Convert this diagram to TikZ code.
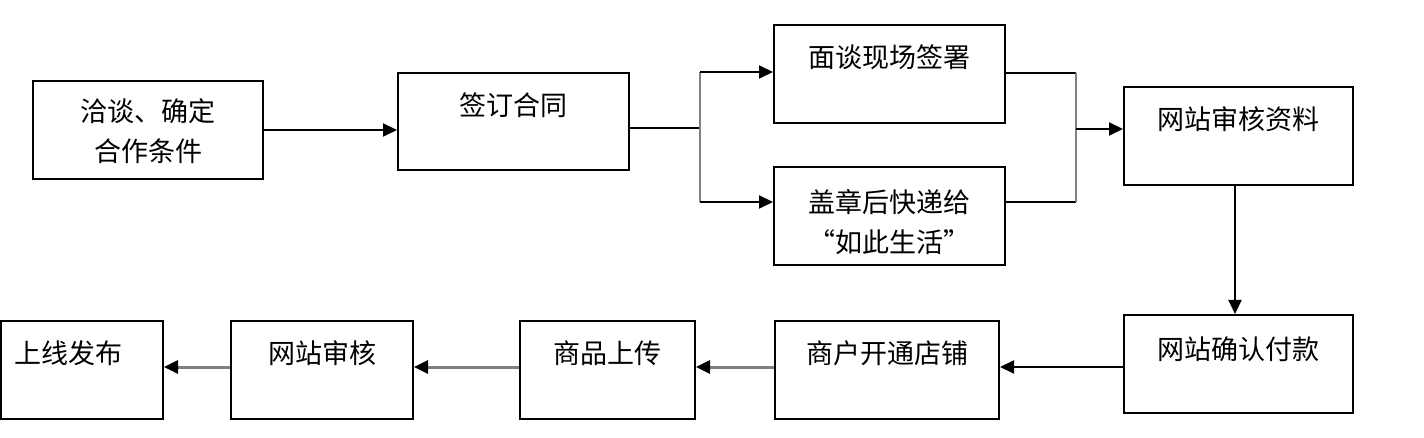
\documentclass[tikz,border=0pt]{standalone}
\usepackage{fontspec}
\setmainfont{Noto Sans CJK SC}[CharacterWidth=Full]
\usetikzlibrary{arrows.meta}
\begin{document}
\begin{tikzpicture}[x=1pt,y=-1pt,
  box/.style={draw=black, line width=2pt, inner sep=0pt, minimum height=98pt},
  txt/.style={inner sep=0pt, font=\fontsize{27}{38}\selectfont, text height=21pt, text depth=0pt, align=center},
  conn/.style={draw=black, line width=2pt},
  arr/.style={conn, -{Triangle[length=14pt,width=13pt]}},
  bar/.style={draw=gray, line width=2.5pt},
  garr/.style={draw=gray, line width=3pt, -{Triangle[length=14pt,width=13pt,color=black]}}]
\useasboundingbox (0,0) rectangle (1424,438);
% boxes
\node[box, minimum width=230pt] (b1) at (148,130) {};
\node[box, minimum width=231pt, minimum height=97pt] (b2) at (513.5,121.5) {};
\node[box, minimum width=231pt] (b3) at (889.5,74) {};
\node[box, minimum width=231pt] (b4) at (889.5,216) {};
\node[box, minimum width=229pt] (b5) at (1238.5,136) {};
\node[box, minimum width=229pt] (b6) at (1238.5,364) {};
\node[box, minimum width=224pt] (b7) at (887,370) {};
\node[box, minimum width=175pt] (b8) at (607.5,370) {};
\node[box, minimum width=182pt] (b9) at (322,370) {};
\node[box, minimum width=162pt] (b10) at (82,370) {};
% texts
\node[txt] (t1) at (148,151) {洽谈、确定\\[2pt]合作条件};
\node[txt] (t2) at (513.5,105) {签订合同};
\node[txt] (t3) at (889.5,57) {面谈现场签署};
\node[txt] (t4) at (889.5,242) {盖章后快递给\\[2pt]“如此生活”};
\node[txt] (t5) at (1238.5,119) {网站审核资料};
\node[txt] (t6) at (1238.5,349) {网站确认付款};
\node[txt] (t7) at (887,353) {商户开通店铺};
\node[txt] (t8) at (607.5,353) {商品上传};
\node[txt] (t9) at (322,353) {网站审核};
\node[txt, anchor=west] (t10) at (14,353) {上线发布};
% junction coordinates
\coordinate (s1) at (700,128);
\coordinate (s1t) at (700,72);
\coordinate (s1b) at (700,202);
\coordinate (j1t) at (1076,73);
\coordinate (j1b) at (1076,202);
\coordinate (j1m) at (1076,129);
\coordinate (row) at (0,367);
\coordinate (vx) at (1235,0);
% connectors
\draw[arr] (b1.east) -- (b1.east -| b2.west);
\draw[conn] (s1 -| b2.east) -- (s1);
\draw[bar] (s1t) -- (s1b);
\draw[arr] (s1t) -- (s1t -| b3.west);
\draw[arr] (s1b) -- (s1b -| b4.west);
\draw[conn] (j1t -| b3.east) -- (j1t);
\draw[conn] (j1b -| b4.east) -- (j1b);
\draw[bar] (j1t) -- (j1b);
\draw[arr] (j1m) -- (j1m -| b5.west);
\draw[arr] (vx |- b5.south) -- (vx |- b6.north);
\draw[arr] (b6.west |- row) -- (b7.east |- row);
\draw[garr] (b7.west |- row) -- (b8.east |- row);
\draw[garr] (b8.west |- row) -- (b9.east |- row);
\draw[garr] (b9.west |- row) -- (b10.east |- row);
\end{tikzpicture}
\end{document}
